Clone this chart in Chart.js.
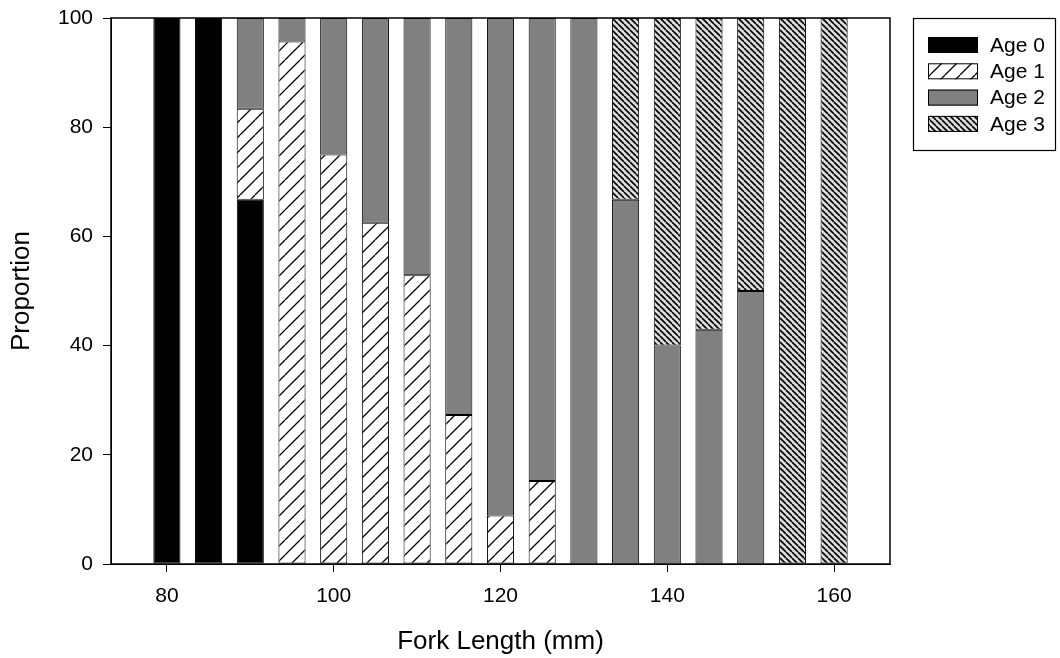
<!DOCTYPE html>
<html>
<head>
<meta charset="utf-8">
<script src="https://cdn.jsdelivr.net/npm/chart.js@4/dist/chart.umd.min.js"></script>
<style>
  html, body { margin: 0; padding: 0; background: #fff; }
  #wrap { width: 1060px; height: 658px; }
</style>
</head>
<body>
<div id="wrap"><canvas id="c" width="1060" height="658"></canvas></div>
<script>
// Fork length classes (mm) and the percentage of fish in each age group
const lengths = [80, 85, 90, 95, 100, 105, 110, 115, 120, 125, 130, 135, 140, 145, 150, 155, 160];
const age0 = [100, 100, 66.7, null, null, null, null, null, null, null, null, null, null, null, null, null, null];
const age1 = [null, null, 16.7, 95.7, 75, 62.5, 52.9, 27.3, 8.9, 15.2, null, null, null, null, null, null, null];
const age2 = [null, null, 16.6, 4.3, 25, 37.5, 47.1, 72.7, 91.1, 84.8, 100, 66.7, 40, 42.9, 50, null, null];
const age3 = [null, null, null, null, null, null, null, null, null, null, null, 33.3, 60, 57.1, 50, 100, 100];
const seriesNames = ['Age 0', 'Age 1', 'Age 2', 'Age 3'];
const xTicks = [80, 100, 120, 140, 160];
const yTicks = [0, 20, 40, 60, 80, 100];

const FONT = "'Liberation Sans', Arial, sans-serif";

// Repeating diagonal hatch tile
function hatch(bg, fg, size, dir, lw) {
  const t = document.createElement('canvas');
  t.width = size; t.height = size;
  const g = t.getContext('2d');
  g.fillStyle = bg;
  g.fillRect(0, 0, size, size);
  g.strokeStyle = fg;
  g.lineWidth = lw;
  g.beginPath();
  for (const o of [-size, 0, size]) {
    if (dir === '/') { g.moveTo(o, size); g.lineTo(o + size, 0); }
    else { g.moveTo(o, 0); g.lineTo(o + size, size); }
  }
  g.stroke();
  return g.createPattern(t, 'repeat');
}

const ctx = document.getElementById('c').getContext('2d');
const fills = [
  '#000000',
  hatch('#ffffff', '#000000', 15, '/', 1.3),
  '#808080',
  hatch('#dcdcdc', '#000000', 6, '\\', 1.6)
];
const seriesData = [age0, age1, age2, age3];

const datasets = seriesData.map((arr, i) => ({
  label: seriesNames[i],
  data: lengths.map((x, j) => ({ x: x, y: arr[j] })),
  backgroundColor: fills[i],
  borderColor: '#000',
  borderWidth: 1,
  borderSkipped: false,
  stack: 'all',
  categoryPercentage: 1.0,
  barPercentage: 0.65
}));

// Plot frame around the data area
const framePlugin = {
  id: 'frame',
  afterDatasetsDraw(chart) {
    const a = chart.chartArea, c = chart.ctx;
    c.save();
    c.strokeStyle = '#000';
    c.lineWidth = 1.5;
    c.strokeRect(a.left, a.top, a.right - a.left, a.bottom - a.top);
    c.restore();
  }
};

// Boxed legend to the right of the plot
const boxLegend = {
  id: 'boxLegend',
  afterDraw(chart) {
    const c = chart.ctx;
    const bx = 913, by = 18, bw = 142, bh = 132;
    c.save();
    c.strokeStyle = '#000';
    c.lineWidth = 1.2;
    c.strokeRect(bx + 0.5, by + 0.5, bw, bh);
    c.font = '21px ' + FONT;
    c.textBaseline = 'middle';
    c.textAlign = 'left';
    chart.data.datasets.forEach((ds, i) => {
      const cy = 45 + i * 26.3;
      c.fillStyle = ds.backgroundColor;
      c.fillRect(928, cy - 8, 50, 16);
      c.strokeStyle = '#000';
      c.lineWidth = 1;
      c.strokeRect(928.5, cy - 7.5, 49, 15);
      c.fillStyle = '#000';
      c.fillText(ds.label, 990, cy + 1);
    });
    c.restore();
  }
};

new Chart(ctx, {
  type: 'bar',
  data: { datasets: datasets },
  options: {
    responsive: false,
    animation: false,
    devicePixelRatio: 1,
    layout: { padding: { top: 18, right: 170, left: 0, bottom: 0 } },
    plugins: { legend: { display: false }, tooltip: { enabled: false } },
    scales: {
      x: {
        type: 'linear',
        min: 73.3,
        max: 166.7,
        offset: false,
        afterBuildTicks(s) { s.ticks = xTicks.map(v => ({ value: v })); },
        afterFit(s) { s.height = 94; s.paddingLeft = 0; s.paddingRight = 0; },
        grid: { offset: false, drawOnChartArea: false, drawTicks: true, tickLength: 8, color: '#000', tickColor: '#000' },
        border: { display: true, color: '#000', width: 1 },
        ticks: { color: '#000', font: { family: FONT, size: 21 }, padding: 12, maxRotation: 0 },
        title: { display: true, text: 'Fork Length (mm)', color: '#000', font: { family: FONT, size: 26 }, padding: { top: 0, bottom: 1 } }
      },
      y: {
        stacked: true,
        min: 0,
        max: 100,
        afterBuildTicks(s) { s.ticks = yTicks.map(v => ({ value: v })); },
        afterFit(s) { s.width = 111; s.paddingTop = 0; s.paddingBottom = 0; },
        grid: { offset: false, drawOnChartArea: false, drawTicks: true, tickLength: 8, color: '#000', tickColor: '#000' },
        border: { display: true, color: '#000', width: 1 },
        ticks: { color: '#000', font: { family: FONT, size: 21 }, padding: 10 },
        title: { display: true, text: 'Proportion', color: '#000', font: { family: FONT, size: 26 }, padding: { top: 6, bottom: 0 } }
      }
    }
  },
  plugins: [framePlugin, boxLegend]
});
</script>
</body>
</html>
